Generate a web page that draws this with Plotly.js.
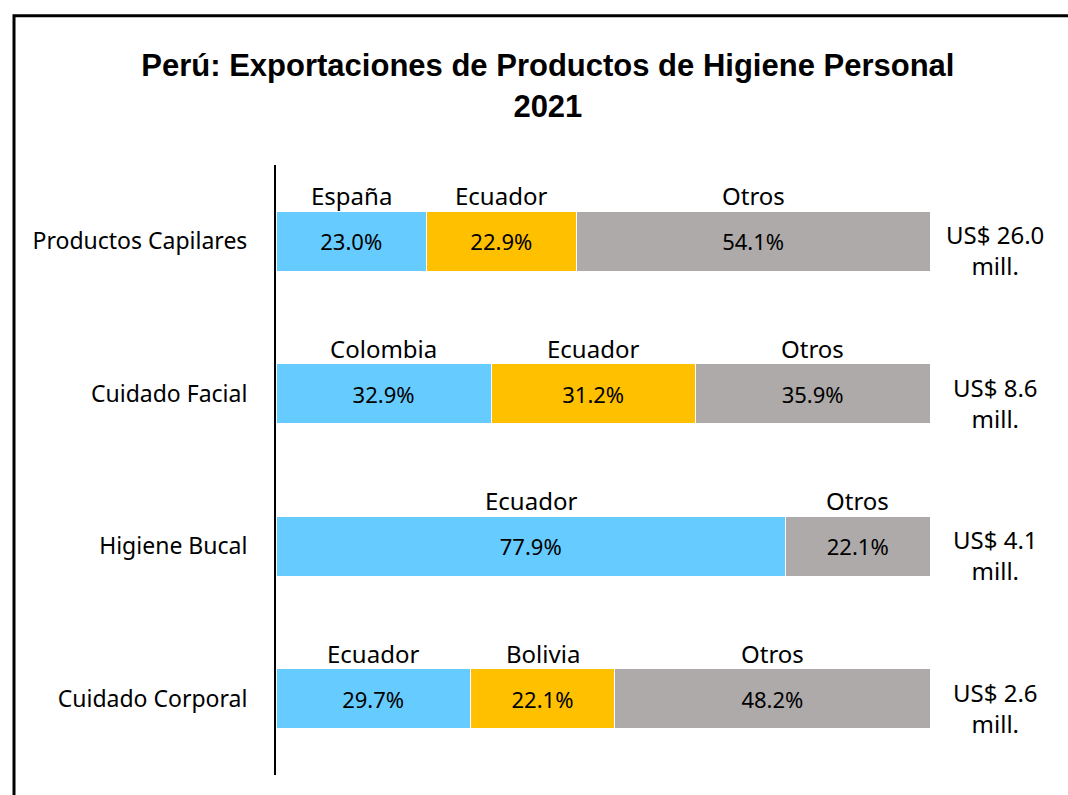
<!DOCTYPE html>
<html>
<head>
<meta charset="utf-8">
<script src="https://cdn.plot.ly/plotly-3.0.1.min.js"></script>
<style>html,body{margin:0;padding:0;background:#fff;}#chart{width:1068px;height:795px;}</style>
</head>
<body>
<div id="chart"></div>
<script>
const categories = ['Productos Capilares', 'Cuidado Facial', 'Higiene Bucal', 'Cuidado Corporal'];
const seg1Values = [23.0, 32.9, 77.9, 29.7];
const seg2Values = [22.9, 31.2, null, 22.1];
const seg3Values = [54.1, 35.9, 22.1, 48.2];
const seg1Names = ['España', 'Colombia', 'Ecuador', 'Ecuador'];
const seg2Names = ['Ecuador', 'Ecuador', null, 'Bolivia'];
const seg3Names = ['Otros', 'Otros', 'Otros', 'Otros'];
const totals = [26.0, 8.6, 4.1, 2.6];

const FONT = 'Noto Sans, Open Sans, sans-serif';
const colors = ['#66CCFF', '#FFC000', '#AEAAAA'];

function barTrace(vals, color) {
  return {
    type: 'bar', orientation: 'h', y: categories, x: vals,
    marker: {color: color, line: {color: '#ffffff', width: 1}},
    width: 0.395,
    texttemplate: '%{x:.1f}%', textposition: 'inside', insidetextanchor: 'middle',
    textfont: {family: FONT, size: 22, color: '#000'},
    constraintext: 'none', hoverinfo: 'skip', cliponaxis: false
  };
}

const data = [barTrace(seg1Values, colors[0]), barTrace(seg2Values, colors[1]), barTrace(seg3Values, colors[2])];

const annotations = [];
categories.forEach((c, i) => {
  const segs = [[seg1Values[i], seg1Names[i]], [seg2Values[i], seg2Names[i]], [seg3Values[i], seg3Names[i]]];
  let cum = 0;
  segs.forEach(([v, n]) => {
    if (v == null) return;
    if (n) {
      annotations.push({
        x: cum + v / 2, y: c, xref: 'x', yref: 'y', text: n, showarrow: false,
        yanchor: 'bottom', yshift: 27, font: {family: FONT, size: 24, color: '#000'}
      });
    }
    cum += v;
  });
  annotations.push({
    x: 1.0994, y: c, xref: 'paper', yref: 'y',
    text: 'US$ ' + totals[i].toFixed(1) + '<br>mill.', showarrow: false,
    xanchor: 'center', yanchor: 'middle', yshift: -9, align: 'center',
    font: {family: FONT, size: 24, color: '#000'}
  });
});

const layout = {
  width: 1068, height: 795,
  margin: {l: 276, r: 138, t: 165, b: 20},
  paper_bgcolor: '#fff', plot_bgcolor: '#fff',
  showlegend: false,
  barmode: 'stack',
  title: {
    text: '<b>Perú: Exportaciones de Productos de Higiene Personal<br>2021</b>',
    x: 0.513, xanchor: 'center', y: 0.904, yanchor: 'middle',
    font: {family: 'Liberation Sans, Arial, sans-serif', size: 31, color: '#000'}
  },
  xaxis: {range: [0, 100], visible: false, fixedrange: true},
  yaxis: {
    type: 'category', categoryorder: 'array', categoryarray: categories,
    range: [3.5, -0.5], showline: true, linecolor: '#000', linewidth: 2,
    showgrid: false, zeroline: false, ticks: '', ticklen: 0,
    tickfont: {family: FONT, size: 23, color: '#000'}, ticklabelstandoff: 22
  },
  shapes: [{
    type: 'rect', xref: 'paper', yref: 'paper',
    x0: -0.4006, x1: 1.3, y0: -0.2, y1: 1.2447,
    line: {color: '#000', width: 3}, fillcolor: 'rgba(0,0,0,0)', layer: 'above'
  }],
  annotations: annotations
};

Plotly.newPlot('chart', data, layout, {displayModeBar: false, staticPlot: true});
</script>
</body>
</html>
